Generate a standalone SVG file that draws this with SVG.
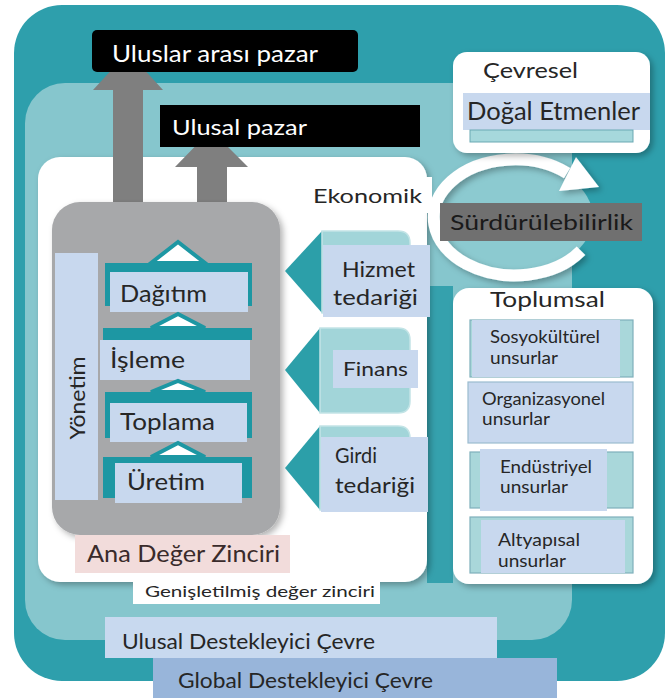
<svg xmlns="http://www.w3.org/2000/svg" width="670" height="698" viewBox="0 0 670 698">
<defs>
<style>
text { font-family: Lato, "Liberation Sans", "DejaVu Sans", sans-serif; fill: #262626; }
text.wtx { fill: #ffffff; }
text.dk { fill: #1a1a1a; }
text.pk { fill: #3a2b2b; }
.lb { fill: #c8d8ee; }
.teal { fill: #1d97a3; }
.tri { fill: #ffffff; stroke: #1d97a3; stroke-width: 4; stroke-linejoin: miter; }
.chev { fill: #2c9fa9; }
.body { fill: #a2d5d9; stroke: #c3e4e6; stroke-width: 1.5; }
.arr { fill: #7f7f7f; }
.sub { fill: #a9d7da; stroke: #7fb0bb; stroke-width: 1.2; }
.st { font-size: 17px; }
</style>
<filter id="sh" x="-10%" y="-10%" width="130%" height="130%">
<feDropShadow dx="3" dy="3" stdDeviation="3" flood-color="#000" flood-opacity="0.3"/>
</filter>
</defs>
<rect width="670" height="698" fill="#ffffff"/>
<g id="global-env-bg">
<rect x="14" y="5" width="651" height="676" rx="48" fill="#2e9fac"/>
</g>
<g id="national-env-bg">
<rect x="25" y="83" width="547" height="557" rx="40" fill="#86c6cd"/>
<rect x="427" y="286" width="26" height="297" fill="#35a1ad"/>
</g>
<g id="extended-chain">
<rect x="38" y="157" width="389" height="425" rx="22" fill="#ffffff" filter="url(#sh)"/>
<rect x="133" y="579" width="247" height="25" fill="#ffffff"/>
<text x="145" y="597" font-size="16" textLength="230" lengthAdjust="spacingAndGlyphs">Genişletilmiş değer zinciri</text>
</g>
<g id="sustainability">
<ellipse cx="515" cy="217.5" rx="78" ry="55" fill="#8ccad0"/>
<g filter="url(#sh)">
<path d="M 581 250.8 A 81 58 0 1 1 567.1 173.1" fill="none" stroke="#ffffff" stroke-width="12"/>
<polygon points="576,157 559,191 599,187" fill="#ffffff"/>
</g>
<rect x="440" y="203" width="202" height="38" fill="#707070"/>
<text class="dk" x="450" y="230" font-size="22" textLength="183" lengthAdjust="spacingAndGlyphs">Sürdürülebilirlik</text>
</g>
<g id="economic">
<rect x="300" y="177" width="132" height="36" fill="#ffffff"/>
<text x="313" y="203" font-size="20" textLength="109" lengthAdjust="spacingAndGlyphs">Ekonomik</text>
</g>
<g id="environmental">
<rect x="453" y="52" width="197" height="101" rx="14" fill="#ffffff" filter="url(#sh)"/>
<text x="483" y="78" font-size="21" textLength="95" lengthAdjust="spacingAndGlyphs">Çevresel</text>
<rect x="463" y="93" width="187" height="37" class="lb"/>
<text x="467" y="120" font-size="25" textLength="173" lengthAdjust="spacingAndGlyphs">Doğal Etmenler</text>
<rect x="470" y="130" width="163" height="12" fill="#a6d8dc" stroke="#6aa9b3" stroke-width="1"/>
</g>
<g id="social">
<rect x="453" y="288" width="200" height="296" rx="16" fill="#ffffff" filter="url(#sh)"/>
<text x="490" y="307" font-size="22" textLength="115" lengthAdjust="spacingAndGlyphs">Toplumsal</text>
<g id="sosyokulturel">
<rect x="470" y="320" width="163" height="57" class="sub"/>
<rect x="472" y="320" width="148" height="57" class="lb"/>
<text class="st" x="490" y="343" textLength="110" lengthAdjust="spacingAndGlyphs">Sosyokültürel</text>
<text class="st" x="490" y="364" textLength="68" lengthAdjust="spacingAndGlyphs">unsurlar</text>
</g>
<g id="organizasyonel">
<rect x="468" y="382" width="165" height="61" class="lb" stroke="#9bbccf" stroke-width="1.2"/>
<text class="st" x="482" y="405" textLength="123" lengthAdjust="spacingAndGlyphs">Organizasyonel</text>
<text class="st" x="482" y="425" textLength="68" lengthAdjust="spacingAndGlyphs">unsurlar</text>
</g>
<g id="endustriyel">
<rect x="470" y="452" width="163" height="56" class="sub"/>
<rect x="480" y="449" width="127" height="62" class="lb"/>
<text class="st" x="500" y="473" textLength="92" lengthAdjust="spacingAndGlyphs">Endüstriyel</text>
<text class="st" x="500" y="493" textLength="68" lengthAdjust="spacingAndGlyphs">unsurlar</text>
</g>
<g id="altyapisal">
<rect x="470" y="517" width="163" height="56" class="sub"/>
<rect x="481" y="520" width="144" height="53" class="lb"/>
<text class="st" x="498" y="546" textLength="82" lengthAdjust="spacingAndGlyphs">Altyapısal</text>
<text class="st" x="498" y="567" textLength="68" lengthAdjust="spacingAndGlyphs">unsurlar</text>
</g>
</g>
<g id="connectors">
<polygon class="arr" points="113,206 113,90 93,90 128,52 163,90 143,90 143,206"/>
<polygon class="arr" points="197,206 197,167 175,167 211,130 248,167 227,167 227,206"/>
</g>
<g id="main-chain">
<rect x="52" y="202" width="228" height="333" rx="28" fill="#a7a8aa" filter="url(#sh)"/>
<g id="yonetim">
<rect x="55" y="253" width="43" height="247" class="lb"/>
<text transform="translate(85,398) rotate(-90)" text-anchor="middle" font-size="22" textLength="83" lengthAdjust="spacingAndGlyphs">Yönetim</text>
</g>
<g id="dagitim">
<polygon class="tri" points="151,263 178,242 205,263"/>
<rect class="teal" x="105" y="263" width="147" height="43"/>
<rect class="lb" x="110" y="272" width="138" height="40"/>
<text x="120" y="302" font-size="23" textLength="87" lengthAdjust="spacingAndGlyphs">Dağıtım</text>
</g>
<g id="isleme">
<polygon class="tri" points="151,328 178,314 205,328"/>
<rect class="teal" x="103" y="328" width="149" height="12"/>
<rect class="lb" x="100" y="340" width="150" height="40"/>
<text x="110" y="368" font-size="23" textLength="75" lengthAdjust="spacingAndGlyphs">İşleme</text>
</g>
<g id="toplama">
<polygon class="tri" points="151,392 178,381 205,392"/>
<rect class="teal" x="105" y="392" width="147" height="46"/>
<rect class="lb" x="110" y="403" width="137" height="39"/>
<text x="120" y="430" font-size="23" textLength="95" lengthAdjust="spacingAndGlyphs">Toplama</text>
</g>
<g id="uretim">
<polygon class="tri" points="151,457 178,443 205,457"/>
<rect class="teal" x="103" y="457" width="149" height="41"/>
<rect class="lb" x="115" y="463" width="127" height="40"/>
<text x="127" y="490" font-size="23" textLength="78" lengthAdjust="spacingAndGlyphs">Üretim</text>
</g>
</g>
<g id="hizmet">
<path class="chev" d="M285,271 L322,231 L322,313 Z"/>
<path class="body" d="M322,231 H398 Q410,231 410,243 V313 H322 Z"/>
<rect class="lb" x="323" y="245" width="107" height="72"/>
<text x="342" y="277" font-size="22" textLength="73" lengthAdjust="spacingAndGlyphs">Hizmet</text>
<text x="333" y="305" font-size="22" textLength="85" lengthAdjust="spacingAndGlyphs">tedariği</text>
</g>
<g id="finans">
<path class="chev" d="M285,370 L320,328 L320,413 Z"/>
<path class="body" d="M320,328 H398 Q410,328 410,340 V401 Q410,413 398,413 H320 Z"/>
<rect class="lb" x="333" y="350" width="85" height="38"/>
<text x="343" y="376" font-size="19" textLength="65" lengthAdjust="spacingAndGlyphs">Finans</text>
</g>
<g id="girdi">
<path class="chev" d="M285,468 L320,426 L320,510 Z"/>
<path class="body" d="M320,426 H398 Q410,426 410,438 V510 H320 Z"/>
<rect class="lb" x="321" y="437" width="107" height="75"/>
<text x="335" y="463" font-size="22" textLength="42" lengthAdjust="spacingAndGlyphs">Girdi</text>
<text x="335" y="493" font-size="22" textLength="80" lengthAdjust="spacingAndGlyphs">tedariği</text>
</g>
<g id="ana-deger-zinciri">
<rect x="75" y="535" width="215" height="38" fill="#f2dcdb"/>
<text class="pk" x="87" y="562" font-size="23" textLength="193" lengthAdjust="spacingAndGlyphs">Ana Değer Zinciri</text>
</g>
<g id="uluslararasi-pazar">
<rect x="92" y="30" width="266" height="42" rx="5" fill="#000000"/>
<text class="wtx" x="112" y="62" font-size="23" textLength="206" lengthAdjust="spacingAndGlyphs">Uluslar arası pazar</text>
</g>
<g id="ulusal-pazar">
<rect x="160" y="105" width="260" height="42" fill="#000000"/>
<text class="wtx" x="172" y="135" font-size="22" textLength="135" lengthAdjust="spacingAndGlyphs">Ulusal pazar</text>
</g>
<g id="ulusal-cevre">
<rect x="105" y="617" width="392" height="41" fill="#c8d9ef"/>
<text x="122" y="649" font-size="22" textLength="253" lengthAdjust="spacingAndGlyphs">Ulusal Destekleyici Çevre</text>
</g>
<g id="global-cevre">
<rect x="153" y="658" width="404" height="40" fill="#98b5da"/>
<text x="178" y="688" font-size="22" textLength="255" lengthAdjust="spacingAndGlyphs">Global Destekleyici Çevre</text>
</g>
</svg>
